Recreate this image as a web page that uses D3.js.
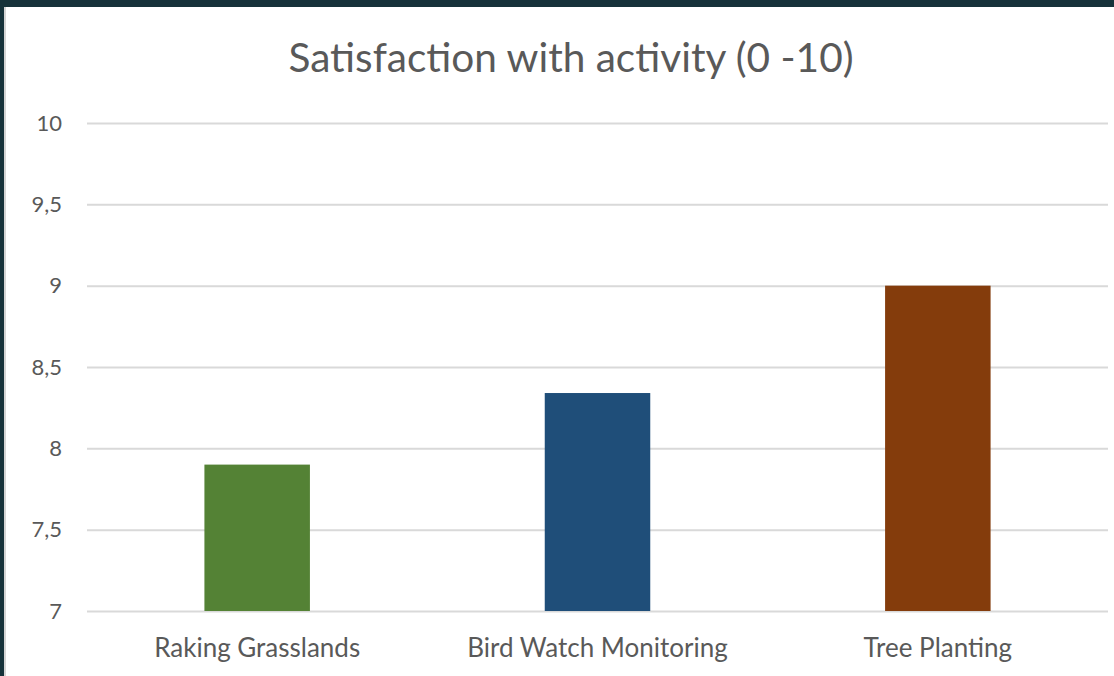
<!DOCTYPE html>
<html>
<head>
<meta charset="utf-8">
<script src="https://cdn.jsdelivr.net/npm/d3@7"></script>
<style>
  body { margin: 0; background: #16323a; }
  .chart { position: absolute; left: 4px; top: 7px; }
  text { font-family: Lato, "Open Sans", sans-serif; fill: #595959; }
</style>
</head>
<body>
<div class="chart"></div>
<script>
const categories = ['Raking Grasslands', 'Bird Watch Monitoring', 'Tree Planting'];
const values = [7.9, 8.34, 9.0];
const colors = ['#548235', '#1f4e79', '#843c0c'];
const yTicks = [7, 7.5, 8, 8.5, 9, 9.5, 10];

const fullWidth = 1110, fullHeight = 669;
// the chart box sits at (4, 7) on the page
const margin = { top: 116, right: 6, bottom: 65, left: 83 };
const width = fullWidth - margin.left - margin.right;
const height = fullHeight - margin.top - margin.bottom;

const svg = d3.select('.chart')
  .append('svg')
    .attr('width', fullWidth)
    .attr('height', fullHeight)
    .style('background', '#fff')
    .style('display', 'block');

// thin grey edge on the left
svg.append('rect')
  .attr('x', 0).attr('y', 0)
  .attr('width', 2).attr('height', fullHeight)
  .attr('fill', '#d4d4d4');

svg.append('text')
  .attr('x', 567)
  .attr('y', 65)
  .attr('text-anchor', 'middle')
  .attr('font-size', 40.6)
  .text('Satisfaction with activity (0 -10)');

const chart = svg.append('g')
  .attr('transform', `translate(${margin.left}, ${margin.top})`);

const yScale = d3.scaleLinear()
  .domain([7, 10])
  .range([height, 0]);

const xScale = d3.scaleBand()
  .domain(categories)
  .range([0, width])
  .padding(0);

const fmt = d => String(d).replace('.', ',');

const yAxis = d3.axisLeft(yScale)
  .tickValues(yTicks)
  .tickSize(-width)
  .tickPadding(25)
  .tickFormat(fmt);

chart.append('g')
  .call(yAxis)
  .attr('font-family', null)
  .attr('font-size', 22)
  .call(g => g.select('.domain').remove())
  .call(g => g.selectAll('line').attr('stroke', '#d9d9d9').attr('stroke-width', 2));

const barW = xScale.bandwidth() * 0.31;

chart.selectAll('rect.bar')
  .data(values)
  .enter()
  .append('rect')
    .attr('class', 'bar')
    .attr('x', (d, i) => xScale(categories[i]) + xScale.bandwidth() / 2 - barW / 2)
    .attr('y', d => yScale(d))
    .attr('width', barW)
    .attr('height', d => height - yScale(d))
    .attr('fill', (d, i) => colors[i]);

const xAxis = d3.axisBottom(xScale)
  .tickSize(0)
  .tickPadding(28);

chart.append('g')
  .attr('transform', `translate(0, ${height})`)
  .call(xAxis)
  .attr('font-family', null)
  .attr('font-size', 26)
  .call(g => g.select('.domain').remove());
</script>
</body>
</html>
